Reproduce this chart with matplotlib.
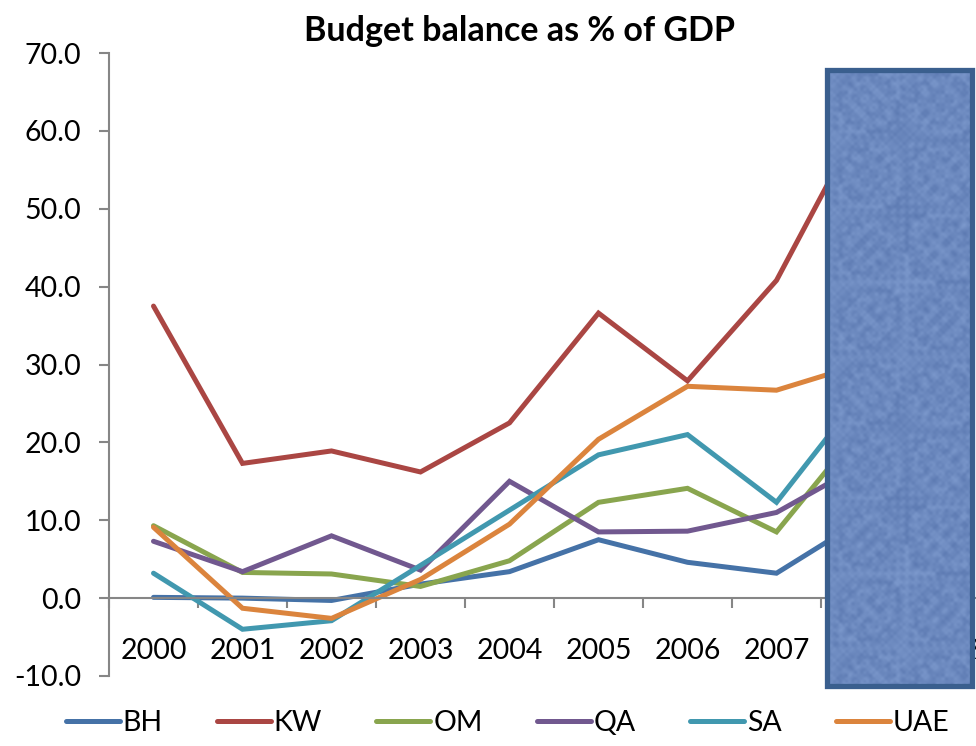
import matplotlib.pyplot as plt
import numpy as np
from matplotlib.patches import Rectangle

years = ['2000', '2001', '2002', '2003', '2004', '2005', '2006', '2007', '2008', '2009']

# values (2008 is hidden behind the box, estimated)
bh = [0.1, 0.0, -0.3, 1.8, 3.4, 7.5, 4.6, 3.2, 10.3]
kw = [37.5, 17.3, 18.9, 16.2, 22.5, 36.6, 27.9, 40.8, 62.3]
om = [9.3, 3.3, 3.1, 1.5, 4.8, 12.3, 14.1, 8.5, 22.5]
qa = [7.3, 3.4, 8.0, 3.6, 15.0, 8.5, 8.6, 11.0, 17.4]
sa = [3.2, -4.0, -2.9, 4.2, 11.3, 18.4, 21.0, 12.3, 26.9]
uae = [9.1, -1.3, -2.6, 2.4, 9.5, 20.4, 27.2, 26.7, 30.2]

series = ['BH', 'KW', 'OM', 'QA', 'SA', 'UAE']
colors = ['#4572A7', '#AA4643', '#89A54E', '#71588F', '#4198AF', '#DB843D']

plt.rcParams['font.family'] = ['Lato', 'DejaVu Sans']

fig = plt.figure(figsize=(9.76, 7.46), dpi=100)
ax = fig.add_axes([109 / 976, 1 - 676 / 746, (976 - 109) / 976, (676 - 53) / 746])

x = np.arange(len(years))
for name, vals, c in zip(series, [bh, kw, om, qa, sa, uae], colors):
    ax.plot(x[:len(vals)], vals, color=c, lw=3.6, label=name, solid_capstyle='round',
            solid_joinstyle='miter')

ax.set_yticks(np.arange(-10, 71, 10))
ax.set_yticklabels(['%.1f' % v for v in np.arange(-10, 71, 10)])
ax.set_xticks(x)
ax.set_xticklabels(years)
ax.set_xticks(np.arange(-0.5, 10, 1), minor=True)
ax.set_ylim(-10, 70)
ax.set_xlim(-0.5, -0.5 + (976 - 109) / 89)

for s in ['top', 'right']:
    ax.spines[s].set_visible(False)
ax.spines['bottom'].set_position(('data', 0))
for s in ['left', 'bottom']:
    ax.spines[s].set_color('#868686')
    ax.spines[s].set_linewidth(1.5)

ax.tick_params(axis='y', direction='out', length=7, width=1.5, color='#868686',
               labelsize=20.5, pad=13)
ax.tick_params(axis='x', which='major', length=0, labelsize=20.5, pad=29)
ax.tick_params(axis='x', which='minor', direction='out', length=7, width=1.5, color='#868686')

fig.text(0.532, 0.958, 'Budget balance as % of GDP', ha='center', va='center',
         fontsize=24.5, fontweight='bold')

fig.legend(loc='center', bbox_to_anchor=(0.52, 0.031), ncol=6, frameon=False,
           fontsize=20.5, handlelength=1.9, handletextpad=0.1, columnspacing=1.9)

# textured box covering the last years (woven look from a hashed grid)
bx0, bx1 = 827 / 976, 972 / 976
by0, by1 = 1 - 686 / 746, 1 - 70 / 746
box = fig.add_axes([bx0, by0, bx1 - bx0, by1 - by0])
h, w = 205, 48
jj, ii = np.mgrid[0:h, 0:w]
cell = ((ii * 7919 + jj * 104729 + ii * jj * 31) % 97) / 96.0
weave = np.where((ii + jj) % 2 == 0, 0.15, -0.15)
tex = np.clip(0.45 + 0.35 * (cell - 0.5) + weave, 0, 1)
dark = np.array([0x3E, 0x5C, 0x98]) / 255
light = np.array([0xA4, 0xC0, 0xEE]) / 255
img = dark + (light - dark) * tex[..., None]
box.imshow(img, aspect='auto', interpolation='bicubic')
box.set_axis_off()
fig.add_artist(Rectangle((bx0, by0), bx1 - bx0, by1 - by0, transform=fig.transFigure,
                         fill=False, edgecolor='#3A5F8E', lw=3.8))

fig.savefig('out.png', dpi=100)
